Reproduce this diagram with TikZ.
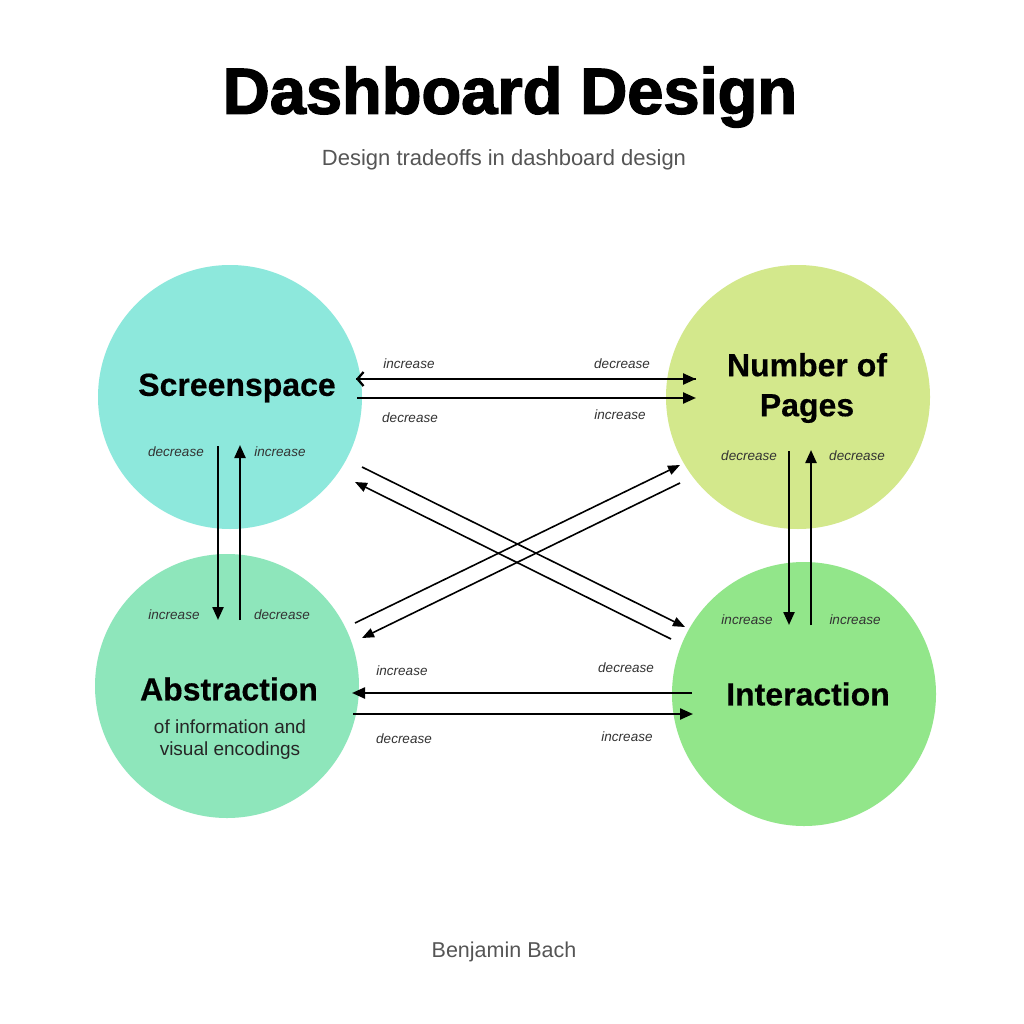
\documentclass[tikz,border=0pt]{standalone}
\usepackage{fontspec}
\setmainfont{Liberation Sans}
\usetikzlibrary{arrows.meta}
\definecolor{cSS}{HTML}{8DE8DC}
\definecolor{cNP}{HTML}{D3E88C}
\definecolor{cAB}{HTML}{8EE6BB}
\definecolor{cIA}{HTML}{92E68A}
\definecolor{subgray}{HTML}{555555}
\definecolor{lblgray}{HTML}{333333}
\tikzset{
  blob/.style={circle, inner sep=0pt, minimum size=264pt, draw=none},
  ctitle/.style={font=\fontsize{32}{38}\selectfont\bfseries\addfontfeatures{FakeBold=0.4}, text=black, align=center, inner sep=0pt},
  lbl/.style={font=\fontsize{13.5}{16}\selectfont\itshape, text=lblgray, inner sep=0pt},
  arr/.style={line width=2.3pt, -{Triangle[length=13pt,width=11pt]}},
  darr/.style={line width=1.6pt, -{Triangle[length=12pt,width=9.5pt]}},
  openarr/.style={line width=2.3pt, -{Straight Barb[length=6pt,width=14pt,line width=2.3pt]}}
}
\begin{document}
\begin{tikzpicture}[x=1pt,y=-1pt]
\useasboundingbox[fill=white] (0,0) rectangle (1024,1024);
% title
\node[font=\fontsize{65}{70}\selectfont\bfseries\addfontfeatures{FakeBold=2.2}, inner sep=0pt] (title) at (510,97) {Dashboard Design};
\node[font=\fontsize{22}{26}\selectfont, text=subgray, inner sep=0pt] (sub) at (504,160) {Design tradeoffs in dashboard design};
\node[font=\fontsize{21.5}{26}\selectfont, text=subgray, inner sep=0pt] (author) at (504,952) {Benjamin Bach};
% circles
\node[blob, fill=cSS] (ss) at (230,397) {};
\node[blob, fill=cNP] (np) at (798,397) {};
\node[blob, fill=cAB] (ab) at (227,686) {};
\node[blob, fill=cIA] (ia) at (804,694) {};
% circle texts
\node[ctitle] (sst) at (237,388) {Screenspace};
\node[ctitle, font=\fontsize{32}{40}\selectfont\bfseries\addfontfeatures{FakeBold=0.4}] (npt) at (807,388) {Number of\\Pages};
\node[ctitle] (abt) at (229,689) {Abstraction};
\node[font=\fontsize{19}{22}\selectfont, text=black!85, align=center, inner sep=0pt] (abs) at (230,740) {of information and\\visual encodings};
\node[ctitle] (iat) at (808,694) {Interaction};
% arrow coordinates
\coordinate (h1l) at (356,379); \coordinate (h1r) at (696,379);
\coordinate (h2l) at (357,398); \coordinate (h2r) at (696,398);
\coordinate (h3l) at (352,693); \coordinate (h3r) at (692,693);
\coordinate (h4l) at (353,714); \coordinate (h4r) at (693,714);
\coordinate (v1t) at (218,446); \coordinate (v1b) at (218,620);
\coordinate (v2t) at (240,445); \coordinate (v2b) at (240,620);
\coordinate (v3t) at (789,451); \coordinate (v3b) at (789,625);
\coordinate (v4t) at (811,450); \coordinate (v4b) at (811,625);
\coordinate (dA1) at (362,467); \coordinate (dA2) at (685,627);
\coordinate (dB1) at (671,639); \coordinate (dB2) at (355,482);
\coordinate (dC1) at (355,623); \coordinate (dC2) at (680,465);
\coordinate (dD1) at (680,483); \coordinate (dD2) at (362,638);
% horizontal arrows
\draw[line width=2.3pt] (h1l) -- (h1r);
\draw[openarr] (h1r) -- (h1l);
\draw[arr] (h1l) -- (h1r);
\draw[arr] (h2l) -- (h2r);
\draw[arr] (h3r) -- (h3l);
\draw[arr] (h4l) -- (h4r);
% vertical arrows
\draw[arr] (v1t) -- (v1b);
\draw[arr] (v2b) -- (v2t);
\draw[arr] (v3t) -- (v3b);
\draw[arr] (v4b) -- (v4t);
% diagonal arrows
\draw[darr] (dA1) -- (dA2);
\draw[darr] (dB1) -- (dB2);
\draw[darr] (dC1) -- (dC2);
\draw[darr] (dD1) -- (dD2);
% labels
\node[lbl] (l1) at (409,364) {increase};
\node[lbl] (l2) at (622,364) {decrease};
\node[lbl] (l3) at (410,418) {decrease};
\node[lbl] (l4) at (620,415) {increase};
\node[lbl] (l5) at (176,452) {decrease};
\node[lbl] (l6) at (280,452) {increase};
\node[lbl] (l7) at (174,615) {increase};
\node[lbl] (l8) at (282,615) {decrease};
\node[lbl] (l9) at (749,456) {decrease};
\node[lbl] (l10) at (857,456) {decrease};
\node[lbl] (l11) at (747,620) {increase};
\node[lbl] (l12) at (855,620) {increase};
\node[lbl] (l13) at (402,671) {increase};
\node[lbl] (l14) at (626,668) {decrease};
\node[lbl] (l15) at (404,739) {decrease};
\node[lbl] (l16) at (627,737) {increase};
\end{tikzpicture}
\end{document}
